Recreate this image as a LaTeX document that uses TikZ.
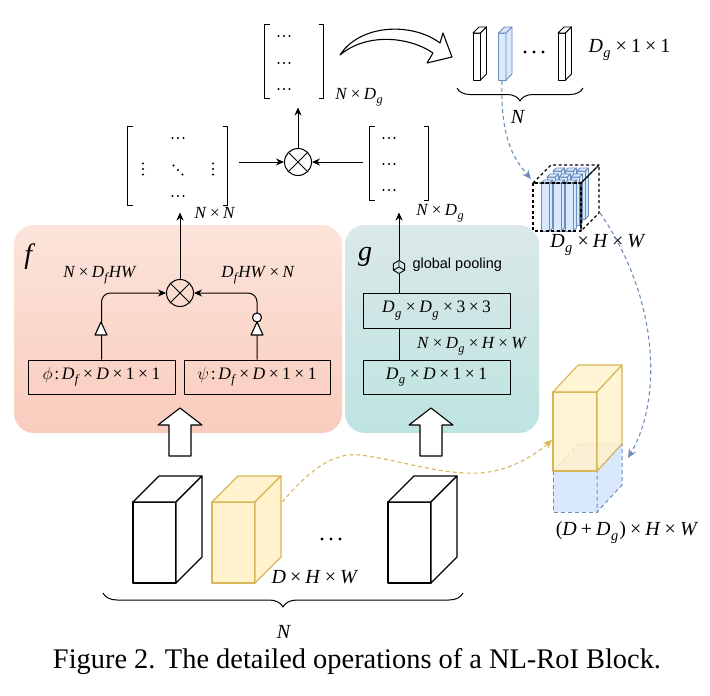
\documentclass[tikz,border=0pt]{standalone}
\usepackage{graphicx}
\usepackage[no-math]{fontspec}
\setmainfont{Liberation Serif}
\newfontfamily\sanslab{Liberation Sans}
\usetikzlibrary{arrows.meta,decorations.pathreplacing,calc}
\definecolor{yfill}{HTML}{FFF2CC}
\definecolor{ydraw}{HTML}{D6B656}
\definecolor{bfill}{HTML}{DAE8FC}
\definecolor{bdraw}{HTML}{6C8EBF}
\definecolor{pinkT}{RGB}{252,228,218}
\definecolor{pinkB}{RGB}{249,204,190}
\definecolor{tealT}{RGB}{218,232,232}
\definecolor{tealB}{RGB}{190,228,225}
\newcommand\X{\hspace{0.2em}×\hspace{0.2em}}
\newcommand\PL{\hspace{0.2em}+\hspace{0.2em}}
\newcommand\sbs[1]{\hspace{0.02em}\raisebox{-0.25em}{\scalebox{0.72}{\itshape #1}}\hspace{0.06em}}
\newcommand\I[1]{\textit{#1}}
% #1 x, #2 y(top of front), #3 w, #4 h, #5 dx, #6 dy, #7 style
\newcommand\mycuboid[7]{%
  \path[#7] (#1,#2) rectangle ++(#3,#4);
  \path[#7] (#1,#2) -- ++(#5,#6) -- ++(#3,0) -- (#1+#3,#2) -- cycle;
  \path[#7] (#1+#3,#2) -- ++(#5,#6) -- ++(0,#4) -- (#1+#3,#2+#4) -- cycle;}
\newcommand\mybrackets[1]{%
  \draw[line width=1.3pt] ($(#1.north west)+(5,0)$) -- (#1.north west) -- (#1.south west) -- ++(5,0);
  \draw[line width=1.3pt] ($(#1.north east)+(-5,0)$) -- (#1.north east) -- (#1.south east) -- ++(-5,0);}
\newcommand\mycross[1]{%
  \draw (#1.north east) -- (#1.south west);
  \draw (#1.north west) -- (#1.south east);}
\newcommand\hdt[2]{\fill (#1-5.5,#2) circle (1.05) (#1,#2) circle (1.05) (#1+5.5,#2) circle (1.05);}
\newcommand\vdt[2]{\fill (#1,#2-5.5) circle (1.05) (#1,#2) circle (1.05) (#1,#2+5.5) circle (1.05);}
\newcommand\ddt[2]{\fill (#1-4.5,#2-4.5) circle (1.05) (#1,#2) circle (1.05) (#1+4.5,#2+4.5) circle (1.05);}
\begin{document}
\begin{tikzpicture}[x=1pt,y=-1pt,line width=1pt,line join=round,
  arr/.style={-{Stealth[length=8pt,width=7pt]}},
  lbl/.style={font=\fontsize{17}{20}\selectfont, inner sep=0},
  lblL/.style={font=\fontsize{20}{24}\selectfont, inner sep=0},
  opbox/.style={draw, inner sep=0, font=\fontsize{17.5}{20}\selectfont},
  otnode/.style={draw, circle, minimum size=27pt, inner sep=0},
  mat/.style={inner sep=0, draw=none},
  bdash/.style={draw=bdraw, dash pattern=on 4pt off 3pt, line width=1.1pt},
  ydash/.style={draw=ydraw, dash pattern=on 4pt off 3pt, line width=1.1pt},
  wcube/.style={draw=black, fill=white, line width=1.1pt},
  wcol/.style={draw=black, fill=white, line width=0.9pt},
  ycube/.style={draw=ydraw, fill=yfill, line width=1.1pt},
  bcol/.style={draw=bdraw, fill=bfill, line width=0.9pt},
  bdcube/.style={draw=bdraw, fill=bfill, line width=1pt, dash pattern=on 4pt off 3pt},
  ytrans/.style={draw=ydraw, fill=yfill, fill opacity=0.85, line width=1.1pt},
  blackdash/.style={draw=black, line width=1.1pt, dash pattern=on 3pt off 2.5pt},
  hollow/.style={draw=black, fill=white, line width=1.1pt},
]
\useasboundingbox (0,0) rectangle (710,696);

% ---------- panels ----------
\path[rounded corners=20pt, top color=pinkT, bottom color=pinkB] (14,225) rectangle (342,433);
\path[rounded corners=20pt, top color=tealT, bottom color=tealB] (345,225) rectangle (539,433);
\node[font=\fontsize{28}{30}\selectfont, inner sep=0] (flab) at (30,257) {\I{f}};
\node[font=\fontsize{28}{30}\selectfont, inner sep=0] (glab) at (365,257) {\I{g}};

% ---------- f branch ----------
\node[opbox, minimum width=147pt, minimum height=34pt] (phi) at (101.5,377) {$\phi$\hspace{0.1em}:\hspace{0.15em}\I{D}\sbs{f}\X\I{D}\X1\X1};
\node[opbox, minimum width=146pt, minimum height=34pt] (psi) at (257,377) {$\psi$\hspace{0.1em}:\hspace{0.15em}\I{D}\sbs{f}\X\I{D}\X1\X1};
\node[otnode] (ot1) at (180,293) {};
\mycross{ot1}
\draw[arr, rounded corners=9pt] (phi.north) |- (ot1.west);
\draw[arr, rounded corners=9pt] (psi.north) |- (ot1.east);
\path[hollow] (95,335) -- (107,335) -- (101,322) -- cycle;
\path[hollow] (251,335) -- (263,335) -- (257,322) -- cycle;
\path[hollow] (257,317.5) circle (4.5);
\node[lbl] (l1) at (100,275) {\I{N}\X\I{D}\sbs{f}\I{HW}};
\node[lbl] (l2) at (258,275) {\I{D}\sbs{f}\I{HW}\X\I{N}};

% ---------- g branch ----------
\node[opbox, minimum width=147pt, minimum height=35pt] (ug) at (436.5,310.5) {\I{D}\sbs{g}\X\I{D}\sbs{g}\X3\X3};
\node[opbox, minimum width=147pt, minimum height=34pt] (lg) at (436.5,377) {\I{D}\sbs{g}\X\I{D}\X1\X1};
\node[inner sep=0, minimum size=13pt] (gp) at (399,267) {};
\draw[line width=0.9pt] ($(gp)+(90:6.5)$) -- ($(gp)+(150:6.5)$) -- ($(gp)+(210:6.5)$) -- ($(gp)+(270:6.5)$) -- ($(gp)+(330:6.5)$) -- ($(gp)+(30:6.5)$) -- cycle;
\draw[line width=0.9pt] ($(gp)+(150:6.5)$) -- (gp.center) -- ($(gp)+(30:6.5)$) (gp.center) -- ($(gp)+(270:6.5)$);
\draw (lg.north -| gp) -- (ug.south -| gp);
\draw (ug.north -| gp) -- (gp.south);
\node[font=\sanslab\fontsize{14.5}{16}\selectfont, inner sep=0, anchor=west] (gpl) at (412,265) {global pooling};
\node[lbl] (l3) at (472,346) {\I{N}\X\I{D}\sbs{g}\X\I{H}\X\I{W}};

% ---------- middle matrices ----------
\node[mat, minimum width=99pt, minimum height=78pt] (mL) at (177.5,166) {};
\mybrackets{mL}
\hdt{178}{138}
\hdt{178}{196}
\vdt{143}{169}
\vdt{213}{169}
\ddt{178}{170}
\node[lbl] (l4) at (215,213) {\I{N}\X\I{N}};

\node[mat, minimum width=58pt, minimum height=73pt] (mR) at (399,163.5) {};
\mybrackets{mR}
\hdt{389}{138}
\hdt{389}{164}
\hdt{389}{190}
\node[lbl] (l5) at (440,213) {\I{N}\X\I{D}\sbs{g}};

\node[otnode] (ot2) at (298,162) {};
\mycross{ot2}
\draw[arr, shorten <=11pt] (mL.east |- ot2) -- (ot2.west);
\draw[arr, shorten <=7pt] (mR.west |- ot2) -- (ot2.east);
\draw[arr, shorten >=7pt] (ot1.north) -- (mL.south -| ot1);
\draw[arr, shorten >=12pt] (gp.north) -- (mR.south);

% ---------- top matrix ----------
\node[mat, minimum width=58pt, minimum height=73pt] (mT) at (294,61.5) {};
\mybrackets{mT}
\hdt{284}{36}
\hdt{284}{63}
\hdt{284}{89}
\node[lbl] (l6) at (359,97) {\I{N}\X\I{D}\sbs{g}};
\draw[arr, shorten >=9pt] (ot2.north) -- (ot2.north |- mT.south);

% curved hollow arrow
\path[hollow] (340,55) .. controls (360,24) and (412,22) .. (440,43) -- (443,33) -- (452,57) -- (427,63) -- (433,53) .. controls (408,36) and (366,33) .. (340,55) -- cycle;

% ---------- top-right columns ----------
\mycuboid{473}{33}{7.5}{47}{6}{-6}{wcol}
\mycuboid{498.5}{33}{7.5}{47}{6}{-6}{bcol}
\mycuboid{558}{33}{7.5}{47}{6}{-6}{wcol}
\fill (525,52) circle (1.6) (534,52) circle (1.6) (543,52) circle (1.6);
\node[lblL, anchor=west] (l7) at (588,50) {\I{D}\sbs{g}\X1\X1};
\draw[decorate, decoration={brace, amplitude=13pt}] (583,88) -- (457,88);
\node[lblL] (nT) at (518,117) {\I{N}};

% ---------- Dg x H x W cube ----------
\foreach \k in {2,1,0}{
  \foreach \j in {0,1,2}{
    \mycuboid{541+12*\j+6*\k}{183-6*\k}{8.5}{48}{3}{-3}{bcol}
  }}
\mycuboid{533}{183}{48}{48}{18}{-18}{blackdash}
\node[lblL] (l8) at (598,245) {\I{D}\sbs{g}\X\I{H}\X\I{W}};

% ---------- merged cube ----------
\mycuboid{553}{471}{44}{41}{25}{-27}{bdcube}
\mycuboid{553}{392}{44}{79}{25}{-27}{ytrans}
\node[lblL] (l9) at (627,533) {(\I{D}\PL\I{D}\sbs{g})\X\I{H}\X\I{W}};

% ---------- bottom cubes ----------
\mycuboid{133}{502}{43}{81}{26}{-26}{wcube}
\mycuboid{212}{502}{43}{81}{26}{-26}{ycube}
\mycuboid{388}{502}{43}{81}{26}{-26}{wcube}
\fill (322,539) circle (1.7) (331,539) circle (1.7) (340,539) circle (1.7);
\node[lblL] (l10) at (315,577) {\I{D}\X\I{H}\X\I{W}};
\draw[decorate, decoration={brace, amplitude=14pt}] (463,593) -- (103,593);
\node[lblL] (nB) at (284,632) {\I{N}};

% ---------- block arrows ----------
\path[hollow] (169,456) -- (169,425) -- (158,425) -- (180,408) -- (202,425) -- (191,425) -- (191,456) -- cycle;
\path[hollow] (420,456) -- (420,425) -- (409,425) -- (431,408) -- (453,425) -- (442,425) -- (442,456) -- cycle;

% ---------- dashed connectors ----------
\coordinate (c2b) at (502,81);
\coordinate (cubeTL) at (531,179);
\coordinate (cubeBR) at (600,213);
\coordinate (mergeB) at (628,458);
\coordinate (ycubeR) at (282,502);
\coordinate (mergeY) at (552,440);
\draw[bdash, -{Stealth[length=9pt,width=8pt]}] (c2b) .. controls (500,140) and (515,160) .. (cubeTL);
\draw[bdash, -{Stealth[length=9pt,width=8pt]}] (cubeBR) .. controls (660,300) and (662,400) .. (mergeB);
\draw[ydash, -{Stealth[length=9pt,width=8pt]}] (ycubeR) .. controls (310,470) and (333,452) .. (360,455) .. controls (400,460) and (440,475) .. (480,473) .. controls (510,471) and (535,455) .. (mergeY);

% ---------- caption ----------
\node[font=\fontsize{28.4}{30}\selectfont, inner sep=0] (cap) at (357,662) {Figure 2. The detailed operations of a NL-RoI Block.};
\end{tikzpicture}
\end{document}
